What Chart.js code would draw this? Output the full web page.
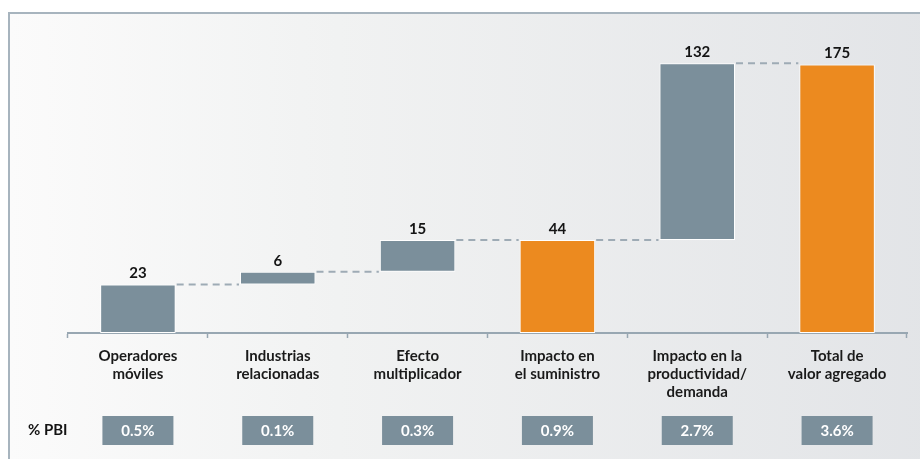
<!DOCTYPE html>
<html>
<head>
<meta charset="utf-8">
<script src="https://cdn.jsdelivr.net/npm/chart.js@4.4.1/dist/chart.umd.min.js"></script>
<style>
  html, body { margin: 0; padding: 0; background: #fff; }
  #wrap { position: relative; width: 920px; height: 459px; overflow: hidden; }
  #frame {
    position: absolute; left: 8px; top: 12px; width: 940px; height: 480px;
    border: 2px solid #a7b4be; box-sizing: border-box;
    background: linear-gradient(to right, #fbfbfb 0%, #f1f2f2 35%, #e2e4e7 100%);
  }
  #myChart { position: absolute; left: 0; top: 0; }
</style>
</head>
<body>
<div id="wrap">
  <div id="frame"></div>
  <canvas id="myChart" width="920" height="459"></canvas>
</div>
<script>
// categories (multi-line labels)
const categories = [
  ["Operadores", "móviles"],
  ["Industrias", "relacionadas"],
  ["Efecto", "multiplicador"],
  ["Impacto en", "el suministro"],
  ["Impacto en la", "productividad/", "demanda"],
  ["Total de", "valor agregado"],
];
// value shown on each bar
const values = [23, 6, 15, 44, 132, 175];
// true = total bar (starts at zero), false = step bar
const isTotal = [false, false, false, true, false, true];
// % of GDP row
const pbiLabels = ["0.5%", "0.1%", "0.3%", "0.9%", "2.7%", "3.6%"];
const pbiTitle = "% PBI";

const grey = "#7b8f9b";
const orange = "#ec8a1f";
const font = "Lato, 'Open Sans', sans-serif";

// the source chart squeezes the part above 44 (not drawn to scale)
const BREAK = 44;
const SQUEEZE = 0.634;

class BrokenScale extends Chart.LinearScale {
  static id = "broken";
  static defaults = Chart.LinearScale.defaults;
  tf(v) {
    return v <= BREAK ? v : BREAK + (v - BREAK) * SQUEEZE;
  }
  itf(t) {
    return t <= BREAK ? t : BREAK + (t - BREAK) / SQUEEZE;
  }
  getPixelForValue(v) {
    const a = this.tf(this.min), b = this.tf(this.max);
    return this.getPixelForDecimal((this.tf(v) - a) / (b - a));
  }
  getValueForPixel(p) {
    const a = this.tf(this.min), b = this.tf(this.max);
    return this.itf(a + this.getDecimalForPixel(p) * (b - a));
  }
}
Chart.register(BrokenScale);

// floating bars [start, end]
let running = 0;
const ranges = values.map((v, i) => {
  if (isTotal[i]) {
    running = v;
    return [0, v];
  }
  const r = [running, running + v];
  running += v;
  return r;
});

const waterfallExtras = {
  id: "waterfallExtras",
  afterDatasetsDraw(chart) {
    const ctx = chart.ctx;
    const meta = chart.getDatasetMeta(0);
    const y = chart.scales.y;
    ctx.save();

    // dashed connectors
    ctx.strokeStyle = "#9eabb5";
    ctx.lineWidth = 2;
    ctx.setLineDash([7, 5]);
    for (let i = 0; i < meta.data.length - 1; i++) {
      const a = meta.data[i], b = meta.data[i + 1];
      const level = y.getPixelForValue(ranges[i][1]);
      ctx.beginPath();
      ctx.moveTo(a.x + a.width / 2 + 1, level);
      ctx.lineTo(b.x - b.width / 2 - 1, level);
      ctx.stroke();
    }
    ctx.setLineDash([]);

    // value labels
    ctx.fillStyle = "#141414";
    ctx.font = "bold 15px " + font;
    ctx.textAlign = "center";
    ctx.textBaseline = "alphabetic";
    meta.data.forEach((bar, i) => {
      const top = y.getPixelForValue(ranges[i][1]);
      ctx.fillText(values[i], bar.x, top - 6);
    });

    // % PBI row
    const rowY = 416, boxH = 29, boxW = 71;
    ctx.textAlign = "left";
    ctx.textBaseline = "middle";
    ctx.fillText(pbiTitle, 28, rowY + boxH / 2);
    ctx.textAlign = "center";
    meta.data.forEach((bar, i) => {
      ctx.fillStyle = grey;
      ctx.fillRect(bar.x - boxW / 2, rowY, boxW, boxH);
      ctx.fillStyle = "#ffffff";
      ctx.font = "bold 15px " + font;
      ctx.fillText(pbiLabels[i], bar.x, rowY + boxH / 2 + 1);
    });
    ctx.restore();
  },
};

new Chart(document.getElementById("myChart"), {
  type: "bar",
  data: {
    labels: categories,
    datasets: [
      {
        data: ranges,
        backgroundColor: isTotal.map((t) => (t ? orange : grey)),
        borderColor: "#ffffff",
        borderWidth: 1,
        borderSkipped: false,
        barPercentage: 0.54,
        categoryPercentage: 1,
      },
    ],
  },
  options: {
    responsive: false,
    animation: false,
    layout: { padding: { left: 68, right: 13, top: 31, bottom: 0 } },
    plugins: { legend: { display: false }, tooltip: { enabled: false } },
    scales: {
      x: {
        offset: true,
        grid: {
          display: true,
          offset: true,
          drawOnChartArea: false,
          drawTicks: true,
          tickLength: 5,
          tickWidth: 1.5,
          color: "#98a7b2",
        },
        border: { display: true, color: "#98a7b2", width: 2 },
        ticks: {
          color: "#1a1a1a",
          font: { family: font, size: 15, weight: "bold", lineHeight: 1.2 },
          padding: 9,
          maxRotation: 0,
          autoSkip: false,
        },
        afterFit: (scale) => {
          scale.height = 126;
        },
      },
      y: {
        type: "broken",
        display: false,
        min: 0,
        max: 200,
      },
    },
  },
  plugins: [waterfallExtras],
});
</script>
</body>
</html>
